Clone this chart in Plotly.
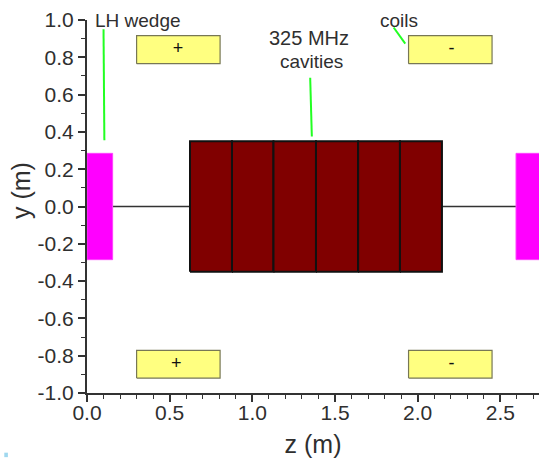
import plotly.graph_objects as go

cavity_edges = [0.623, 0.877, 1.128, 1.385, 1.64, 1.893, 2.147]
cavity_half_height = 0.35
wedge_spans = [(0.0, 0.155), (2.595, 2.76)]
wedge_half_height = 0.285
coil_spans_z = [(0.30, 0.805), (1.945, 2.45)]
coil_spans_y = [(0.766, 0.916), (-0.92, -0.771)]
coil_signs = [["+", "-"], ["+", "-"]]
coil_sign_z = [[0.55, 2.204], [0.54, 2.204]]
beam_segments = [(0.155, 0.623), (2.147, 2.595)]
pointers = [
    ([0.1, 0.105], [0.95, 0.355]),
    ([1.35, 1.36], [0.69, 0.375]),
    ([1.855, 1.925], [0.96, 0.873]),
]
labels = [
    ("LH wedge", 0.036, 0.995, "left", 19),
    ("325 MHz", 1.34, 0.905, "center", 20),
    ("cavities", 1.355, 0.775, "center", 19),
    ("coils", 1.89, 0.995, "center", 19),
]
x_ticks = [0.0, 0.5, 1.0, 1.5, 2.0, 2.5]
y_ticks = [1.0, 0.8, 0.6, 0.4, 0.2, 0.0, -0.2, -0.4, -0.6, -0.8, -1.0]

FONT = "Liberation Sans"
INK = "#2f2f2f"


def rect(z0, z1, y0, y1, fill, line, width):
    return go.Scatter(
        x=[z0, z1, z1, z0, z0], y=[y0, y0, y1, y1, y0], mode="lines",
        fill="toself", fillcolor=fill, line=dict(color=line, width=width),
        hoverinfo="skip", showlegend=False,
    )


fig = go.Figure()
for a, b in beam_segments:
    fig.add_trace(go.Scatter(x=[a, b], y=[0, 0], mode="lines",
                             line=dict(color="#333333", width=1.5), showlegend=False))
for a, b in zip(cavity_edges[:-1], cavity_edges[1:]):
    fig.add_trace(rect(a, b, -cavity_half_height, cavity_half_height, "#800000", "#111111", 2))
for a, b in wedge_spans:
    fig.add_trace(rect(a, b, -wedge_half_height, wedge_half_height, "#ff00ff", "#ff40ff", 1))
for (y0, y1) in coil_spans_y:
    for (z0, z1) in coil_spans_z:
        fig.add_trace(rect(z0, z1, y0, y1, "#ffff80", "#777755", 1.2))
for zs, ys in pointers:
    fig.add_trace(go.Scatter(x=zs, y=ys, mode="lines",
                             line=dict(color="#22ff22", width=2), showlegend=False))

for (y0, y1), signs, zs in zip(coil_spans_y, coil_signs, coil_sign_z):
    fig.add_trace(go.Scatter(x=zs, y=[(y0 + y1) / 2] * 2, mode="text", text=signs,
                             textposition="middle center",
                             textfont=dict(family=FONT, size=18, color="#111111"),
                             showlegend=False))
for text, x, y, anchor, size in labels:
    fig.add_annotation(x=x, y=y, text=text, showarrow=False, xanchor=anchor, yanchor="middle",
                       font=dict(family=FONT, size=size, color=INK))

fig.add_annotation(xref="paper", yref="paper", x=-0.1465, y=0.5435, text="y (m)", textangle=-90,
                   showarrow=False, xanchor="center", yanchor="middle",
                   font=dict(family=FONT, size=25, color=INK))

fig.update_layout(
    width=539, height=459,
    margin=dict(l=87, r=0, t=20, b=66, pad=0),
    paper_bgcolor="white", plot_bgcolor="white",
    showlegend=False,
    font=dict(family=FONT, color=INK),
    xaxis=dict(
        range=[0, 2.734], tickvals=x_ticks, ticktext=[f"{v:.1f}" for v in x_ticks],
        ticks="outside", ticklen=7, tickwidth=1.5, tickcolor="#333333",
        showgrid=False, zeroline=False, showline=True, linecolor="#333333", linewidth=2,
        tickfont=dict(family=FONT, size=21, color=INK), ticklabelstandoff=-7,
        title=dict(text="z (m)", font=dict(family=FONT, size=25, color=INK), standoff=12),
        minor=dict(dtick=0.1, tick0=0, ticks="outside", ticklen=4, tickwidth=1.2, tickcolor="#333333", showgrid=False),
    ),
    yaxis=dict(
        range=[-1.0, 1.0], tickvals=y_ticks, ticktext=[f"{v:.1f}" for v in y_ticks],
        ticks="outside", ticklen=7, tickwidth=1.5, tickcolor="#333333",
        showgrid=False, zeroline=False, showline=True, linecolor="#333333", linewidth=2,
        tickfont=dict(family=FONT, size=21, color=INK),
        minor=dict(dtick=0.1, tick0=0, ticks="outside", ticklen=4, tickwidth=1.2, tickcolor="#333333", showgrid=False),
    ),
    shapes=[dict(type="rect", xref="paper", yref="paper", x0=-0.183, x1=-0.175, y0=-0.172, y1=-0.16,
                 fillcolor="#a0d8ef", line=dict(width=0))],
)
fig.write_html("out.html", config={"displayModeBar": False},
               post_script="document.body.style.margin='0';document.body.style.overflow='hidden';")
